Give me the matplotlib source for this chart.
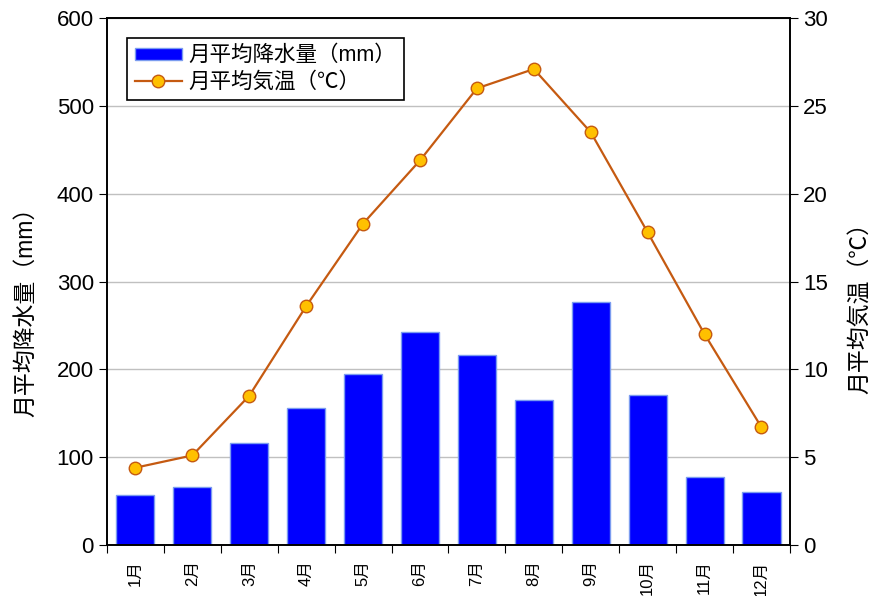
import numpy as np
import matplotlib.pyplot as plt

plt.rcParams['font.family'] = ['Liberation Sans', 'Noto Sans CJK JP']

months = ['1月', '2月', '3月', '4月', '5月', '6月', '7月', '8月', '9月', '10月', '11月', '12月']
rain = [57, 66, 116, 156, 195, 243, 216, 165, 277, 171, 77, 60]
temp = [4.4, 5.1, 8.5, 13.6, 18.3, 21.9, 26.0, 27.1, 23.5, 17.8, 12.0, 6.7]

fig = plt.figure(figsize=(8.79, 5.96), dpi=100)
ax = fig.add_axes([0.1217, 0.0856, 0.777, 0.884])
x = np.arange(len(months))

ax.bar(x, rain, width=0.67, color='#0000ff', edgecolor='#7b9cf0', linewidth=1,
       label='月平均降水量（mm）', zorder=2)
ax.set_xlim(-0.5, 11.5)
ax.set_ylim(0, 600)
ax.set_yticks(range(0, 601, 100))
ax.yaxis.grid(True, color='#c0c0c0', linewidth=1, zorder=0)
ax.set_axisbelow(True)
ax.set_xticks(np.arange(-0.5, 12, 1))
ax.set_xticklabels([])
ax.set_xticks(x, minor=True)
ax.set_xticklabels(months, minor=True, rotation=90, fontsize=12)
ax.tick_params(axis='x', which='minor', length=0, pad=11)
ax.tick_params(axis='x', which='major', length=6, direction='out')
ax.tick_params(axis='y', labelsize=16, length=6)
ax.set_ylabel('月平均降水量（mm）', fontsize=16.5)
ax.yaxis.set_label_coords(-0.102, 0.452)

ax2 = ax.twinx()
ax2.plot(x, temp, color='#c55a11', linewidth=1.6, marker='o', markersize=9,
         markerfacecolor='#ffc000', markeredgecolor='#c55a11', markeredgewidth=1,
         label='月平均気温（℃）', zorder=3)
ax2.set_ylim(0, 30)
ax2.set_yticks(range(0, 31, 5))
ax2.tick_params(axis='y', labelsize=16, length=6)
ax2.set_ylabel('月平均気温（℃）', fontsize=16.5)
ax2.yaxis.set_label_coords(1.085, 0.461)

for a in (ax, ax2):
    for s in a.spines.values():
        s.set_linewidth(1.2)

h1, l1 = ax.get_legend_handles_labels()
h2, l2 = ax2.get_legend_handles_labels()
leg = ax2.legend(h1 + h2, l1 + l2, loc='upper left', bbox_to_anchor=(0.02, 0.975),
                 fontsize=15.5, fancybox=False, edgecolor='black', framealpha=1,
                 handlelength=2.2, handleheight=0.5, handletextpad=0.3,
                 borderpad=0.35, labelspacing=0.25, borderaxespad=0.3)
leg.get_frame().set_linewidth(1.2)

fig.savefig('out.png', dpi=100)
